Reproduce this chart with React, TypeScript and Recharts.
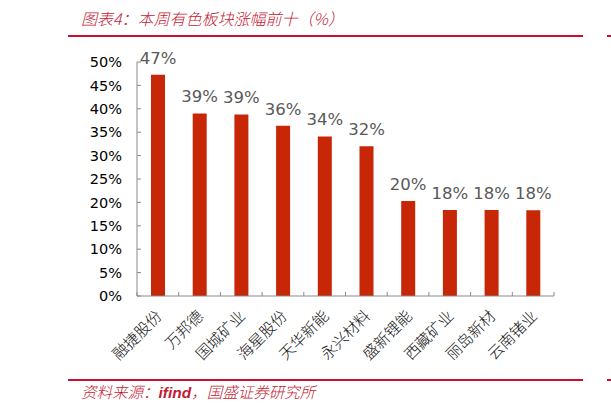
import { BarChart, Bar, XAxis, YAxis, LabelList } from 'recharts'

// top ten non-ferrous stocks by weekly gain (%)
const names = ['融捷股份', '万邦德', '国城矿业', '海星股份', '天华新能', '永兴材料', '盛新锂能', '西藏矿业', '丽岛新材', '云南锗业']
const gains = [47.3, 39.0, 38.8, 36.4, 34.1, 32.0, 20.3, 18.4, 18.4, 18.3]
const yTicks = [0, 5, 10, 15, 20, 25, 30, 35, 40, 45, 50]

const data = names.map((name, i) => ({ name, gain: gains[i] }))

const W = 611
const H = 412
const MARGIN = { top: 62, right: 57, bottom: 36, left: 77 }
const Y_AXIS_W = 60
const PLOT_W = W - MARGIN.left - MARGIN.right - Y_AXIS_W
const BAND = PLOT_W / names.length

const RED = '#C8102E'
const AXIS = '#898989'

const CategoryTick = (props: any) => {
  const { x, y, payload, index } = props
  const left = x - BAND / 2
  const right = x + BAND / 2
  const ax = x + 5
  const ay = y + 21
  return (
    <g>
      <line x1={left} y1={y} x2={left} y2={y - 4} stroke={AXIS} strokeWidth={1} />
      {index === names.length - 1 && (
        <line x1={right} y1={y} x2={right} y2={y - 4} stroke={AXIS} strokeWidth={1} />
      )}
      <text
        x={ax}
        y={ay}
        textAnchor="end"
        transform={`rotate(-45 ${ax} ${ay})`}
        fontSize={15.5}
        fontWeight={300}
        fill="#111"
        fontFamily="'Noto Sans CJK SC', sans-serif"
      >
        {payload.value}
      </text>
    </g>
  )
}

export default function App() {
  return (
    <div style={{ position: 'absolute', left: 0, top: 0, width: W, height: H, background: '#fff', overflow: 'hidden' }}>
      {/* title */}
      <div
        style={{
          position: 'absolute',
          left: 81,
          top: 10,
          fontSize: 16,
          lineHeight: '17px',
          fontStyle: 'italic',
          fontWeight: 300,
          color: '#C41A33',
          fontFamily: "'Noto Sans CJK SC', sans-serif",
          whiteSpace: 'nowrap',
        }}
      >
        图表4：本周有色板块涨幅前十（%）
      </div>
      <div style={{ position: 'absolute', left: 68, top: 35, width: 515, height: 2, background: RED }} />
      <div style={{ position: 'absolute', left: 607, top: 35, width: 4, height: 2, background: RED }} />

      <BarChart width={W} height={H} data={data} margin={MARGIN}>
        <XAxis
          dataKey="name"
          height={80}
          stroke={AXIS}
          tickLine={false}
          tickSize={0}
          tickMargin={0}
          interval={0}
          tick={<CategoryTick />}
        />
        <YAxis
          width={Y_AXIS_W}
          domain={[0, 50]}
          ticks={yTicks}
          interval={0}
          stroke={AXIS}
          tickSize={-4}
          tickMargin={19}
          tickFormatter={(v: number) => `${v}%`}
          tick={{ fill: '#000', fontSize: 14.5, fontFamily: "'DejaVu Sans', sans-serif" }}
        />
        <Bar dataKey="gain" fill="#C72607" barSize={14} isAnimationActive={false}>
          <LabelList
            dataKey="gain"
            position="top"
            offset={11}
            formatter={(v: any) => `${Math.round(Number(v))}%`}
            fill="#595959"
            fontSize={16.5}
            fontFamily="'DejaVu Sans', sans-serif"
          />
        </Bar>
      </BarChart>

      {/* source */}
      <div style={{ position: 'absolute', left: 68, top: 379, width: 515, height: 2, background: RED }} />
      <div style={{ position: 'absolute', left: 607, top: 379, width: 4, height: 2, background: RED }} />
      <div
        style={{
          position: 'absolute',
          left: 81,
          top: 382,
          fontSize: 15.5,
          lineHeight: '18px',
          fontStyle: 'italic',
          fontWeight: 300,
          color: '#C41A33',
          fontFamily: "'Noto Sans CJK SC', sans-serif",
          whiteSpace: 'nowrap',
        }}
      >
        资料来源：
        <span style={{ fontFamily: "'Liberation Sans', sans-serif", fontWeight: 'bold' }}>ifind</span>
        ，国盛证券研究所
      </div>
    </div>
  )
}
